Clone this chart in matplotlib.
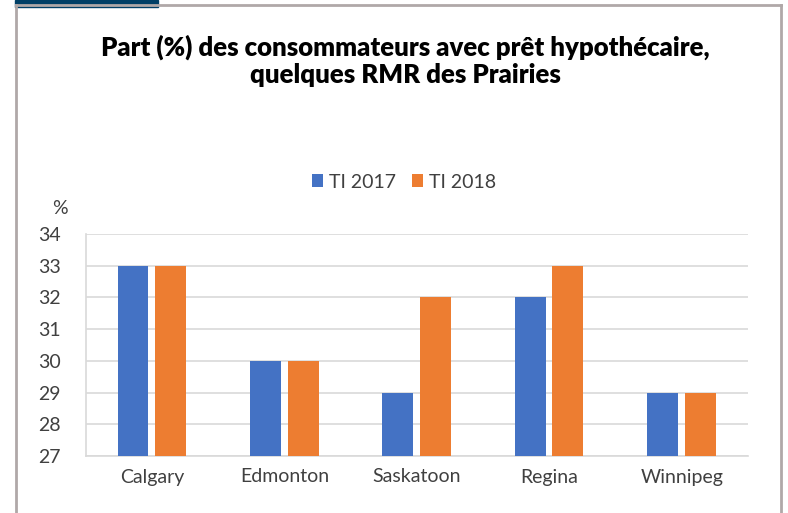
import matplotlib.pyplot as plt
import numpy as np
from matplotlib.patches import Rectangle

plt.rcParams['font.family'] = ['Lato', 'DejaVu Sans']

cities = ['Calgary', 'Edmonton', 'Saskatoon', 'Regina', 'Winnipeg']
t1_2017 = [33, 30, 29, 32, 29]
t1_2018 = [33, 30, 32, 33, 29]
series_labels = ['TI 2017', 'TI 2018']

blue = '#4472c4'
orange = '#ed7d31'
grid_col = '#d9d9d9'
text_col = '#404040'

fig = plt.figure(figsize=(7.88, 5.13), dpi=100)
ax = fig.add_axes([86 / 788, 1 - 456 / 513, 662 / 788, 222 / 513])

x = np.arange(len(cities))
w = 0.234
base = 27
ax.bar(x - 0.145, np.array(t1_2017) - base, w, bottom=base, color=blue, label=series_labels[0], zorder=3)
ax.bar(x + 0.14, np.array(t1_2018) - base, w, bottom=base, color=orange, label=series_labels[1], zorder=3)

ax.set_xlim(-0.5, len(cities) - 0.5)
ax.set_ylim(27, 34)
ax.set_yticks(range(27, 35))
ax.set_xticks(x)
ax.set_xticklabels(cities)
ax.yaxis.grid(True, color=grid_col, linewidth=1.2, zorder=0)
ax.tick_params(axis='both', length=0, labelsize=14, colors=text_col, pad=9)
ax.tick_params(axis='y', pad=18)
for s in ['top', 'right']:
    ax.spines[s].set_visible(False)
ax.spines['left'].set_color(grid_col)
ax.spines['bottom'].set_color(grid_col)
ax.spines['left'].set_linewidth(1.2)
ax.spines['bottom'].set_linewidth(1.2)

fig.text(52 / 788, 1 - 209 / 513, '%', fontsize=14, color=text_col, ha='left', va='center')

fig.text(405 / 788, 1 - 61 / 513, 'Part (%) des consommateurs avec prêt hypothécaire,\nquelques RMR des Prairies',
         fontsize=18.5, fontweight='heavy', ha='center', va='center', color='black', linespacing=1.15)

fig.legend(loc='center', bbox_to_anchor=(404 / 788, 1 - 182 / 513), ncol=2, frameon=False,
           fontsize=14, handlelength=0.6, handleheight=0.6, handletextpad=0.3, columnspacing=0.8,
           labelcolor=text_col)

# frame decoration
fig.add_artist(plt.Line2D([16 / 788, 16 / 788], [0, 1 - 5 / 513], color='#b0a8a8', linewidth=2, transform=fig.transFigure))
fig.add_artist(plt.Line2D([781 / 788, 781 / 788], [0, 1 - 5 / 513], color='#b0a8a8', linewidth=2, transform=fig.transFigure))
fig.add_artist(plt.Line2D([16 / 788, 781 / 788], [1 - 5 / 513, 1 - 5 / 513], color='#b0a8a8', linewidth=2, transform=fig.transFigure))
fig.add_artist(Rectangle((15 / 788, 1 - 7 / 513), 143 / 788, 7 / 513, color='#003f66', transform=fig.transFigure))

fig.savefig('out.png', dpi=100)
